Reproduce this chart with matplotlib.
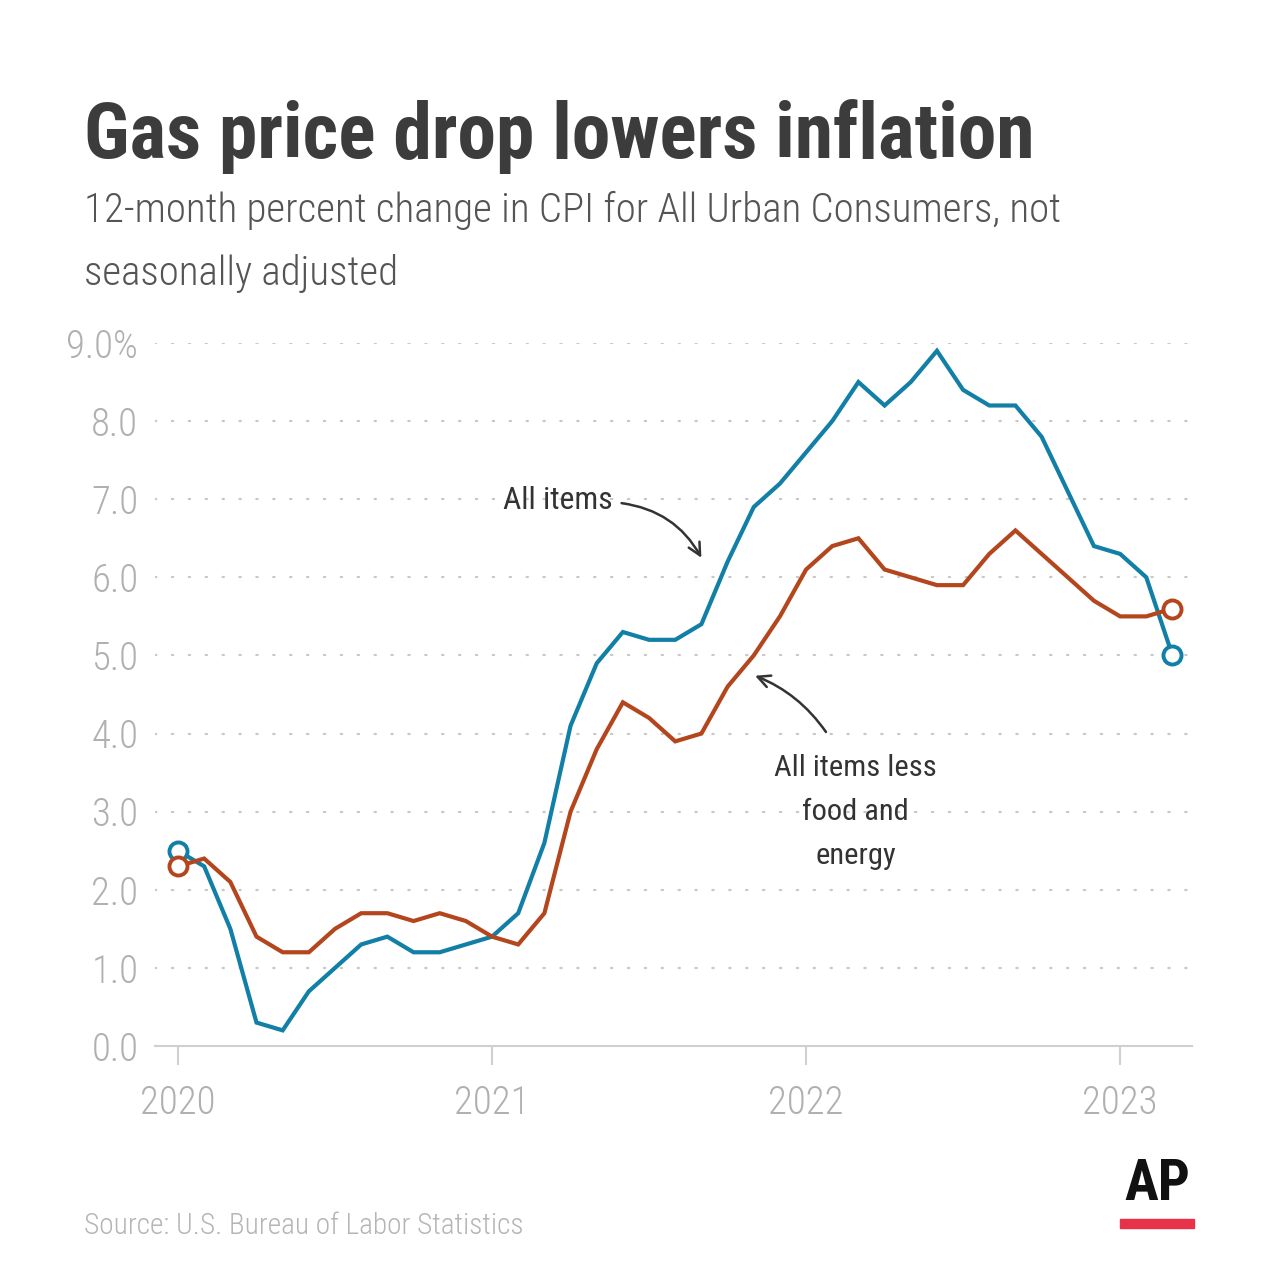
import numpy as np
import matplotlib.pyplot as plt
from matplotlib import font_manager as fm
from matplotlib.patches import Rectangle

# monthly, Jan 2020 - Mar 2023
all_items = [2.5, 2.3, 1.5, 0.3, 0.2, 0.7, 1.0, 1.3, 1.4, 1.2, 1.2, 1.3,
             1.4, 1.7, 2.6, 4.1, 4.9, 5.3, 5.2, 5.2, 5.4, 6.2, 6.9, 7.2,
             7.6, 8.0, 8.5, 8.2, 8.5, 8.9, 8.4, 8.2, 8.2, 7.8, 7.1, 6.4,
             6.3, 6.0, 5.0]
core = [2.3, 2.4, 2.1, 1.4, 1.2, 1.2, 1.5, 1.7, 1.7, 1.6, 1.7, 1.6,
        1.4, 1.3, 1.7, 3.0, 3.8, 4.4, 4.2, 3.9, 4.0, 4.6, 5.0, 5.5,
        6.1, 6.4, 6.5, 6.1, 6.0, 5.9, 5.9, 6.3, 6.6, 6.3, 6.0, 5.7,
        5.5, 5.5, 5.6]
years = ['2020', '2021', '2022', '2023']
yticks = [0, 1, 2, 3, 4, 5, 6, 7, 8, 9]

blue = '#127fa6'
orange = '#b4461e'
grid_c = '#c8c8c8'
tick_c = '#b0b0b0'


# look for a condensed face, the original uses one
def pick_font(target):
    prefs = ['liberation sans narrow', 'roboto condensed', 'noto sans condensed',
             'dejavu sans condensed', 'open sans condensed', 'lato', 'roboto']
    best = None
    for f in fm.fontManager.ttflist:
        key = (f.name + ' ' + f.fname).lower().replace('-', ' ').replace('_', ' ')
        if f.style != 'normal' or 'mono' in key or 'serif' in key:
            continue
        if 'cjk' in key or 'display' in key:
            continue
        if 'extra' in key or 'semi' in key or 'ultra' in key:
            continue
        w = f.weight if isinstance(f.weight, int) else (700 if 'bold' in str(f.weight) else 400)
        if abs(w - target) > 150:
            continue
        for rank, p in enumerate(prefs):
            words = p.split()
            if all(wd in key for wd in words) or (f.stretch == 'condensed' and words[0] in key):
                score = (rank, abs(w - target))
                if best is None or score < best[0]:
                    best = (score, f.fname)
                break
    if best is None:
        return fm.FontProperties(family='DejaVu Sans', weight='bold' if target >= 600 else 'normal')
    return fm.FontProperties(fname=best[1])


fp_light = pick_font(300)
fp_reg = pick_font(400)
fp_bold = pick_font(700)

W = H = 1280
fig = plt.figure(figsize=(12.8, 12.8), dpi=100)
fig.patch.set_facecolor('white')
rend = fig.canvas.get_renderer()


def fit(t, target):
    w = t.get_window_extent(rend).width
    t.set_fontsize(t.get_fontsize() * target / w)
    return t.get_fontsize()


ax = fig.add_axes([155 / W, 1 - 1046 / H, (1192 - 155) / W, (1046 - 343) / H])
x = np.arange(len(all_items))
ax.set_xlim((155 - 178) / 26.17, (1192 - 178) / 26.17)
ax.set_ylim(0, 9)

for v in yticks[1:]:
    ax.axhline(v, color=grid_c, lw=1.6, ls=(0, (0.6, 7)), dash_capstyle='round', zorder=1)

ax.plot(x, all_items, color=blue, lw=3.0, solid_joinstyle='miter', zorder=3, clip_on=False)
ax.plot(x, core, color=orange, lw=3.0, solid_joinstyle='miter', zorder=3, clip_on=False)
for s, c in [(all_items, blue), (core, orange)]:
    ax.plot([x[0], x[-1]], [s[0], s[-1]], 'o', ms=13, mfc='white', mec=c, mew=2.8,
            zorder=4, clip_on=False)

for sp in ['top', 'right', 'left']:
    ax.spines[sp].set_visible(False)
ax.spines['bottom'].set_color('#d0d0d0')
ax.spines['bottom'].set_linewidth(1.5)

# tick label size from the width of "2020" in the original, a bit bigger
probe = fig.text(0, 0, '2020', fontproperties=fp_light, fontsize=28)
tsize = fit(probe, 63) * 1.2
probe.remove()

ax.set_xticks([0, 12, 24, 36])
ax.set_xticklabels(years, fontproperties=fp_light, fontsize=tsize)
ax.tick_params(axis='x', colors='#d0d0d0', length=14, width=1.5, pad=14,
               labelcolor=tick_c)
ax.set_yticks(yticks)
ax.set_yticklabels([f'{v:.1f}%' if v == 9 else f'{v:.1f}' for v in yticks],
                   fontproperties=fp_light, fontsize=tsize)
ax.tick_params(axis='y', length=0, pad=12, labelcolor=tick_c)

# annotations
t1 = ax.text(16.6, 6.99, 'All items', fontproperties=fp_reg, fontsize=26,
             color='#333333', ha='right', va='center')
fit(t1, 110)
ax.annotate('', xy=(20.0, 6.25), xytext=(16.95, 6.95),
            arrowprops=dict(arrowstyle='->', color='#333333', lw=1.8,
                            connectionstyle='arc3,rad=-0.25', mutation_scale=22,
                            shrinkA=0, shrinkB=0))
t2 = ax.text(25.9, 3.74, 'All items less\nfood and\nenergy', fontproperties=fp_reg,
             fontsize=26, color='#333333', ha='center', va='top', linespacing=1.72)
fit(t2, 162)
ax.annotate('', xy=(22.05, 4.74), xytext=(24.76, 4.02),
            arrowprops=dict(arrowstyle='->', color='#333333', lw=1.8,
                            connectionstyle='arc3,rad=0.15', mutation_scale=22,
                            shrinkA=0, shrinkB=0))

# header
tt = fig.text(84 / W, 1 - 158 / H, 'Gas price drop lowers inflation', fontproperties=fp_bold,
              fontsize=66, color='#3c3c3c', ha='left', va='baseline')
fit(tt, 950)
st = fig.text(84 / W, 1 - 222 / H, '12-month percent change in CPI for All Urban Consumers, not',
              fontproperties=fp_light, fontsize=32, color='#555555', ha='left', va='baseline')
ss = fit(st, 980)
fig.text(84 / W, 1 - 285 / H, 'seasonally adjusted', fontproperties=fp_light,
         fontsize=ss, color='#555555', ha='left', va='baseline')

# footer
src = fig.text(84 / W, 1 - 1234 / H, 'Source: U.S. Bureau of Labor Statistics',
               fontproperties=fp_light, fontsize=24, color='#b5b5b5', ha='left', va='baseline')
fit(src, 440)
ap = fig.text(1157 / W, 1 - 1200 / H, 'AP', fontproperties=fp_bold, fontsize=34,
              color='#111111', ha='center', va='baseline')
fit(ap, 66)
fig.patches.append(Rectangle((1120 / W, 1 - 1228 / H), 74 / W, 9 / H,
                             transform=fig.transFigure, color='#e8324a'))

fig.savefig('out.png', dpi=100, facecolor='white')
